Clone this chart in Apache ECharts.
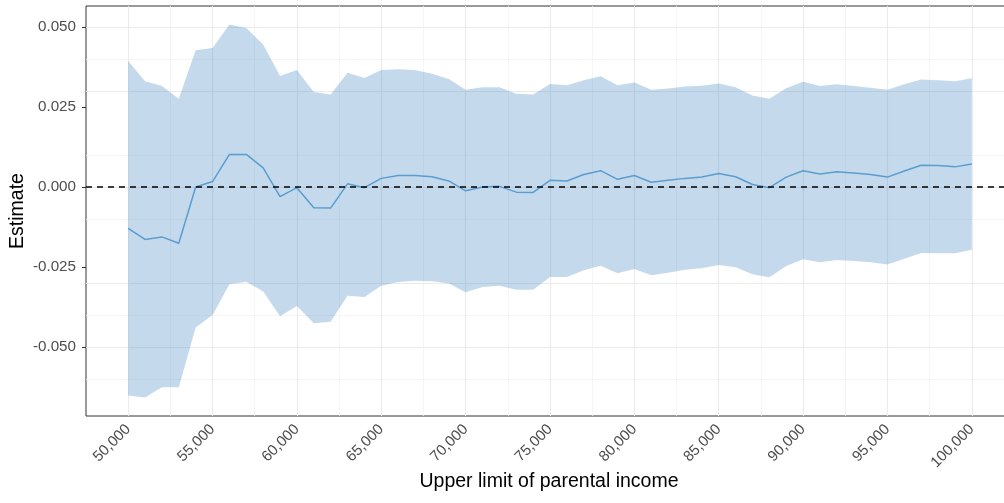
<!DOCTYPE html>
<html>
<head>
<meta charset="utf-8">
<title>Estimate by upper limit of parental income</title>
<script src="https://cdn.jsdelivr.net/npm/echarts@6/dist/echarts.min.js"></script>
<style>
  html, body { margin: 0; padding: 0; background: #ffffff; overflow: hidden; }
  #chart { width: 1014px; height: 503px; }
</style>
</head>
<body>
<div id="chart"></div>
<script>
// Upper income limits used for each estimate
const incomeLimits = [
  50000, 51000, 52000, 53000, 54000, 55000, 56000, 57000, 58000, 59000,
  60000, 61000, 62000, 63000, 64000, 65000, 66000, 67000, 68000, 69000,
  70000, 71000, 72000, 73000, 74000, 75000, 76000, 77000, 78000, 79000,
  80000, 81000, 82000, 83000, 84000, 85000, 86000, 87000, 88000, 89000,
  90000, 91000, 92000, 93000, 94000, 95000, 96000, 97000, 98000, 99000,
  100000
];

// Point estimates
const estimate = [
  -0.0129, -0.0164, -0.0156, -0.0176, 0.0000, 0.0017, 0.0102, 0.0102, 0.0060, -0.0030,
  -0.0002, -0.0065, -0.0066, 0.0010, -0.0002, 0.0027, 0.0036, 0.0036, 0.0032, 0.0019,
  -0.0012, 0.0000, 0.0002, -0.0016, -0.0017, 0.0021, 0.0019, 0.0039, 0.0051, 0.0024,
  0.0036, 0.0015, 0.0021, 0.0027, 0.0031, 0.0042, 0.0032, 0.0008, -0.0002, 0.0031,
  0.0051, 0.0041, 0.0048, 0.0044, 0.0039, 0.0031, 0.0050, 0.0068, 0.0067, 0.0063,
  0.0072
];

// Upper confidence bound
const upperBound = [
  0.0394, 0.0331, 0.0316, 0.0276, 0.0428, 0.0435, 0.0508, 0.0497, 0.0446, 0.0347,
  0.0366, 0.0297, 0.0289, 0.0357, 0.0341, 0.0366, 0.0368, 0.0366, 0.0354, 0.0338,
  0.0304, 0.0312, 0.0312, 0.0292, 0.0289, 0.0322, 0.0318, 0.0334, 0.0346, 0.0318,
  0.0327, 0.0304, 0.0308, 0.0314, 0.0317, 0.0324, 0.0312, 0.0286, 0.0276, 0.0309,
  0.0329, 0.0316, 0.0321, 0.0316, 0.0310, 0.0304, 0.0321, 0.0336, 0.0334, 0.0331,
  0.0340
];

// Lower confidence bound
const lowerBound = [
  -0.0652, -0.0658, -0.0626, -0.0626, -0.0439, -0.0400, -0.0304, -0.0296, -0.0327, -0.0404,
  -0.0372, -0.0426, -0.0421, -0.0340, -0.0344, -0.0309, -0.0297, -0.0293, -0.0295, -0.0302,
  -0.0329, -0.0313, -0.0309, -0.0321, -0.0321, -0.0281, -0.0281, -0.0260, -0.0246, -0.0270,
  -0.0256, -0.0276, -0.0268, -0.0259, -0.0254, -0.0244, -0.0251, -0.0273, -0.0282, -0.0247,
  -0.0226, -0.0235, -0.0228, -0.0231, -0.0235, -0.0242, -0.0224, -0.0206, -0.0207, -0.0207,
  -0.0196
];

// Axis breaks
const xTicks = [50000, 55000, 60000, 65000, 70000, 75000, 80000, 85000, 90000, 95000, 100000];
const xMinorTicks = [52500, 57500, 62500, 67500, 72500, 77500, 82500, 87500, 92500, 97500];
const yTicks = [-0.05, -0.025, 0, 0.025, 0.05];
const yMinorTicks = [-0.0625, -0.0375, -0.0125, 0.0125, 0.0375];

const xLimits = [47500, 102500];
const yLimits = [-0.0716, 0.0566];

const majorGrid = { color: '#ebebeb', width: 1.1, type: 'solid' };
const minorGrid = { color: '#f3f3f3', width: 0.8, type: 'solid' };

const gridLines = []
  .concat(yMinorTicks.map(v => ({ yAxis: v, lineStyle: minorGrid })))
  .concat(xMinorTicks.map(v => ({ xAxis: v, lineStyle: minorGrid })))
  .concat(yTicks.map(v => ({ yAxis: v, lineStyle: majorGrid })))
  .concat(xTicks.map(v => ({ xAxis: v, lineStyle: majorGrid })));

const estData = incomeLimits.map((x, i) => [x, estimate[i]]);

// Confidence ribbon: one polygon, upper bound left to right then lower bound back
function renderRibbon(params, api) {
  const pts = [];
  for (let i = 0; i < incomeLimits.length; i++) {
    pts.push(api.coord([incomeLimits[i], upperBound[i]]));
  }
  for (let i = incomeLimits.length - 1; i >= 0; i--) {
    pts.push(api.coord([incomeLimits[i], lowerBound[i]]));
  }
  return {
    type: 'polygon',
    shape: { points: pts },
    style: { fill: 'rgba(70, 140, 195, 0.32)', stroke: null }
  };
}

const chart = echarts.init(document.getElementById('chart'), null, { renderer: 'canvas' });

const fontFamily = '"Liberation Sans", Arial, Helvetica, sans-serif';

chart.setOption({
  animation: false,
  backgroundColor: '#ffffff',
  grid: {
    left: 86, right: 0, top: 6, bottom: 87,
    show: true, borderColor: '#333333', borderWidth: 1, backgroundColor: '#ffffff', z: 0
  },
  xAxis: {
    type: 'value',
    min: xLimits[0], max: xLimits[1],
    axisLine: { show: false },
    splitLine: { show: false },
    axisTick: { show: true, length: 4, customValues: xTicks, lineStyle: { color: '#333333', width: 1.1 } },
    axisLabel: {
      customValues: xTicks,
      rotate: 45,
      margin: 11,
      padding: [20, 0, 0, 0],
      color: '#4d4d4d',
      fontSize: 15,
      fontFamily: fontFamily,
      formatter: v => Number(v).toLocaleString('en-US')
    }
  },
  yAxis: {
    type: 'value',
    min: yLimits[0], max: yLimits[1],
    axisLine: { show: false },
    splitLine: { show: false },
    axisTick: { show: true, length: 4, customValues: yTicks, lineStyle: { color: '#333333', width: 1.1 } },
    axisLabel: {
      customValues: yTicks,
      margin: 10,
      color: '#4d4d4d',
      fontSize: 15.2,
      fontFamily: fontFamily,
      formatter: v => Number(v).toFixed(3)
    }
  },
  graphic: [
    {
      type: 'text', x: 17.5, y: 211, rotation: Math.PI / 2,
      style: { text: 'Estimate', fill: '#000000', font: '19.5px ' + fontFamily, align: 'center', verticalAlign: 'middle' }
    },
    {
      type: 'text', x: 549, y: 482,
      style: { text: 'Upper limit of parental income', fill: '#000000', font: '19.5px ' + fontFamily, align: 'center', verticalAlign: 'middle' }
    }
  ],
  series: [
    {
      name: 'grid',
      type: 'line',
      data: [],
      z: 1,
      markLine: { silent: true, symbol: 'none', label: { show: false }, z: 1, data: gridLines }
    },
    {
      name: 'interval',
      type: 'custom',
      data: [[incomeLimits[0], 0]],
      renderItem: renderRibbon,
      clip: true,
      silent: true,
      z: 2
    },
    {
      name: 'Estimate',
      type: 'line',
      data: estData,
      symbol: 'none',
      lineStyle: { color: '#5a9dcf', width: 1.5 },
      z: 3,
      markLine: {
        silent: true, symbol: 'none', label: { show: false }, z: 4,
        data: [{ yAxis: 0 }],
        lineStyle: { color: '#000000', width: 1.6, type: [6, 5] }
      }
    }
  ]
});
</script>
</body>
</html>
